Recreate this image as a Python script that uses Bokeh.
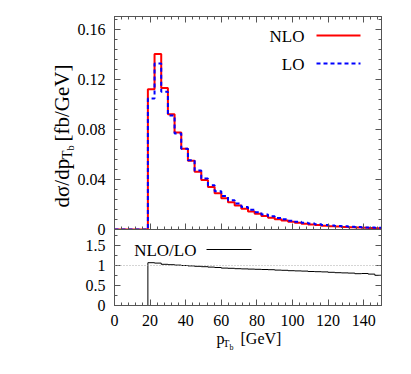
import math
from bokeh.plotting import figure
from bokeh.models import (FixedTicker, LinearAxis, Label, Span, Arrow, Range1d,
                          CustomJSTickFormatter)
from bokeh.layouts import column, row
from bokeh.embed import file_html
from bokeh.resources import INLINE

# ---------------- data ----------------
pt_edges = [0, 3.75, 7.5, 11.25, 15, 18.75, 22.5, 26.25, 30, 33.75, 37.5, 41.25,
            45, 48.75, 52.5, 56.25, 60, 63.75, 67.5, 71.25, 75, 78.75, 82.5,
            86.25, 90, 93.75, 97.5, 101.25, 105, 108.75, 112.5, 116.25, 120,
            123.75, 127.5, 131.25, 135, 138.75, 142.5, 146.25, 150]

nlo = [0, 0, 0, 0, 0,
       0.112, 0.140, 0.113, 0.092, 0.0775, 0.0645, 0.0548, 0.046, 0.0395, 0.034,
       0.029, 0.025, 0.0218, 0.0191, 0.0165, 0.0144, 0.0125, 0.0108, 0.0094, 0.0081,
       0.0071, 0.0061, 0.0053, 0.0046, 0.0040, 0.0035, 0.0030, 0.0026, 0.0023, 0.0020,
       0.0017, 0.0015, 0.0013, 0.0012, 0.0010]

lo = [0, 0, 0, 0, 0,
      0.1045, 0.1325, 0.110, 0.091, 0.0767, 0.0645, 0.0553, 0.0470, 0.0407, 0.0354,
      0.0305, 0.0267, 0.0234, 0.0208, 0.0180, 0.0158, 0.0138, 0.0120, 0.0105, 0.0092,
      0.0081, 0.0070, 0.0061, 0.0053, 0.0047, 0.0041, 0.0036, 0.0031, 0.0028, 0.0025,
      0.0021, 0.0019, 0.0016, 0.0015, 0.0013]

ratio = [0, 0, 0, 0, 0,
         1.07, 1.06, 1.03, 1.02, 1.01, 1.00, 0.99, 0.98, 0.97, 0.96,
         0.95, 0.935, 0.93, 0.92, 0.915, 0.91, 0.905, 0.90, 0.895, 0.885,
         0.88, 0.87, 0.865, 0.86, 0.85, 0.845, 0.84, 0.83, 0.82, 0.815,
         0.81, 0.795, 0.80, 0.785, 0.755]

x_ticks = [0, 20, 40, 60, 80, 100, 120, 140]
y_main_ticks = [0, 0.04, 0.08, 0.12, 0.16]
y_ratio_ticks = [0, 0.5, 1, 1.5]
x_tick_labels = ["0", "20", "40", "60", "80", "100", "120", "140"]
y_main_labels = ["0", "0.04", "0.08", "0.12", "0.16"]
y_ratio_labels = ["0", "0.5", "1", "1.5"]

# ---------------- layout constants (page pixels) ----------------
FONT = "Liberation Serif"
FRAME = "#555555"
X0, X1 = 0, 150
Y1MAX = 0.17
Y2MAX = 1.9
FW, FH1, FH2 = 267, 213, 76
LEFT_PX, TOP1_PX = 113, 16
RIGHT_B = 12
ZERO1_PX = TOP1_PX + FH1
ZERO2_PX = ZERO1_PX + FH2
GAP = 12          # bottom border of the top figure, overlapped by the ratio figure
YT_W = 74         # page width reserved for the y-axis title
YT_EXTRA = 16     # title strip is wider and slides under the plots
LB = LEFT_PX - YT_W
P2_BOTTOM = 24    # room for the x tick labels
XT_TOP = ZERO2_PX + P2_BOTTOM
XT_H = 32


def xd(px):
    return X0 + (px - LEFT_PX) * (X1 - X0) / FW


def y1d(py):
    return (ZERO1_PX - py) * Y1MAX / FH1


def y2d(py):
    return (ZERO2_PX - py) * Y2MAX / FH2


BLANK = CustomJSTickFormatter(code="return ''")


def style_axis(ax, ticks, minor, labels=None, show=True):
    ax.ticker = FixedTicker(ticks=ticks, minor_ticks=minor)
    ax.axis_line_color = FRAME
    ax.axis_line_width = 1
    ax.major_tick_line_color = FRAME
    ax.minor_tick_line_color = FRAME
    ax.major_tick_in = 6
    ax.major_tick_out = 0
    ax.minor_tick_in = 3
    ax.minor_tick_out = 0
    ax.axis_label = None
    if show:
        ax.major_label_text_font = FONT
        ax.major_label_text_font_size = "16px"
        ax.major_label_text_color = "black"
        ax.major_label_standoff = 9
        ax.major_label_overrides = {t: l for t, l in zip(ticks, labels)}
    else:
        ax.formatter = BLANK
        ax.major_label_standoff = 0


def lab(p, x, y, text, size, align="left", baseline="alphabetic", angle=0.0):
    p.add_layout(Label(x=x, y=y, text=text, text_font=FONT,
                       text_font_size=f"{size}px", text_align=align,
                       text_baseline=baseline, angle=angle, text_color="black"))


def blank_fig(x_lo, x_hi, y_top, y_bot, bl, br, bt, bb):
    """A figure without axes whose data coordinates are page pixels."""
    f = figure(frame_width=int(x_hi - x_lo), frame_height=int(y_bot - y_top),
               output_backend="svg", toolbar_location=None,
               x_range=Range1d(x_lo, x_hi), y_range=Range1d(y_bot, y_top),
               x_axis_location=None, y_axis_location=None,
               min_border_left=bl, min_border_right=br, min_border_top=bt,
               min_border_bottom=bb)
    f.grid.visible = False
    f.outline_line_color = None
    f.background_fill_color = "white"
    f.border_fill_color = "white"
    return f


x_minor = [v for v in range(0, 151, 4)]
y1_minor = [round(0.008 * k, 3) for k in range(0, 22)]
y2_minor = [0.25 * k for k in range(0, 8)]

# ---------------- top panel ----------------
p1 = figure(frame_width=FW, frame_height=FH1, output_backend="svg",
            toolbar_location=None, x_range=Range1d(X0, X1), y_range=Range1d(0, Y1MAX),
            min_border_left=LB, min_border_right=RIGHT_B, min_border_top=TOP1_PX,
            min_border_bottom=GAP)
p1.xgrid.visible = False
p1.ygrid.visible = False
p1.outline_line_color = FRAME
p1.background_fill_color = "white"
p1.border_fill_color = "white"
style_axis(p1.xaxis[0], x_ticks, x_minor, show=False)
style_axis(p1.yaxis[0], y_main_ticks, y1_minor, y_main_labels)
ax_top = LinearAxis()
style_axis(ax_top, x_ticks, x_minor, show=False)
p1.add_layout(ax_top, "above")
ax_r1 = LinearAxis()
style_axis(ax_r1, y_main_ticks, y1_minor, show=False)
p1.add_layout(ax_r1, "right")

p1.step(x=pt_edges, y=nlo + [nlo[-1]], mode="after", line_color="#ff0000", line_width=2)
p1.step(x=pt_edges, y=lo + [lo[-1]], mode="after", line_color="#0000ff", line_width=2,
        line_dash="4 3")

# legend
lab(p1, xd(303), y1d(36), "NLO", 17, align="right", baseline="middle")
lab(p1, xd(303), y1d(64), "LO", 17, align="right", baseline="middle")
p1.add_layout(Arrow(end=None, x_start=xd(315), y_start=y1d(35), x_end=xd(359), y_end=y1d(35),
                    line_color="#ff0000", line_width=2))
p1.add_layout(Arrow(end=None, x_start=xd(315), y_start=y1d(63), x_end=xd(359), y_end=y1d(63),
                    line_color="#0000ff", line_width=2, line_dash="4 3"))

# ---------------- ratio panel ----------------
p2 = figure(frame_width=FW, frame_height=FH2, output_backend="svg",
            toolbar_location=None, x_range=p1.x_range, y_range=Range1d(0, Y2MAX),
            min_border_left=LB, min_border_right=RIGHT_B, min_border_top=0,
            min_border_bottom=P2_BOTTOM)
p2.styles = {"margin-top": f"-{GAP}px"}
p2.xgrid.visible = False
p2.ygrid.visible = False
p2.outline_line_color = FRAME
p2.background_fill_color = "white"
p2.border_fill_alpha = 0
style_axis(p2.xaxis[0], x_ticks, x_minor, x_tick_labels)
style_axis(p2.yaxis[0], y_ratio_ticks, y2_minor, y_ratio_labels)
ax_r2 = LinearAxis()
style_axis(ax_r2, y_ratio_ticks, y2_minor, show=False)
p2.add_layout(ax_r2, "right")

p2.add_layout(Span(location=1, dimension="width", line_color="#aaaaaa", line_width=1,
                   line_dash="1 2"))
p2.step(x=pt_edges, y=ratio + [ratio[-1]], mode="after", line_color="black", line_width=1)

lab(p2, xd(195), y2d(250), "NLO/LO", 17, align="right", baseline="middle")
p2.add_layout(Arrow(end=None, x_start=xd(205), y_start=y2d(249), x_end=xd(250), y_end=y2d(249),
                    line_color="black", line_width=1))

# ---------------- x-axis title strip: p_{T_b} [GeV] ----------------
px_t = blank_fig(LEFT_PX, LEFT_PX + FW, XT_TOP, XT_TOP + XT_H, LB, RIGHT_B, 0, 0)
lab(px_t, 215, 338, "p", 16)
lab(px_t, 221.5, 343, "T", 10.5)
lab(px_t, 228, 346.5, "b", 8)
lab(px_t, 239, 338, "[GeV]", 16)

# ---------------- y-axis title strip: dσ/dp_{T_b} [fb/GeV] ----------------
py_t = blank_fig(0, YT_W + YT_EXTRA, TOP1_PX, ZERO1_PX, 0, 0, TOP1_PX, GAP)
py_t.styles = {"margin-right": f"-{YT_EXTRA}px"}
ang = math.pi / 2
lab(py_t, 61, 207, "dσ/dp", 21, angle=ang)
lab(py_t, 66.5, 158.5, "T", 14, angle=ang)
lab(py_t, 70, 150, "b", 10.5, angle=ang)
lab(py_t, 61, 141, "[fb/GeV]", 21, angle=ang)

layout = row(py_t, column(p1, p2, px_t, spacing=0), spacing=0)
open("out.html", "w").write(file_html(layout, INLINE))
